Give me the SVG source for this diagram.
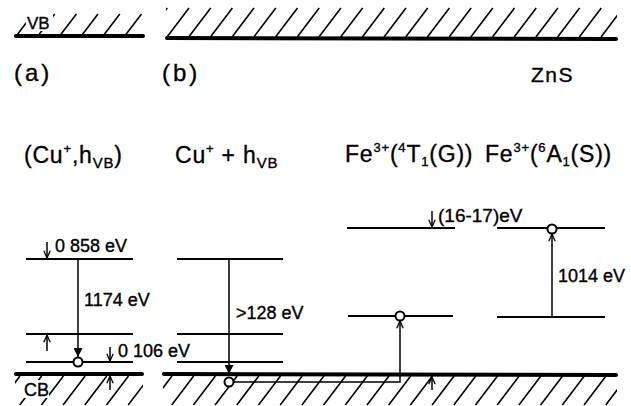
<svg xmlns="http://www.w3.org/2000/svg" width="631" height="406" viewBox="0 0 631 406">
<style>
text{font-family:"Liberation Sans",Arial,sans-serif;fill:#000;stroke:#000;stroke-width:0.35px}
.t{font-size:23px;letter-spacing:0.8px}
.lab{font-size:24px;letter-spacing:3px}
.e{font-size:18px}
.lvl{stroke:#000;stroke-width:2;fill:none}
.band{stroke:#000;stroke-width:4;stroke-linecap:round;fill:none}
.hatch{stroke:#000;stroke-width:1.6;fill:none}
.arr{stroke:#000;stroke-width:1.5;fill:none}
.dot{fill:#fff;stroke:#000;stroke-width:2}
</style>
<defs>
<marker id="ah" viewBox="0 0 10 10" refX="10" refY="5" markerWidth="8" markerHeight="8" orient="auto" markerUnits="userSpaceOnUse"><path d="M1,1 L10,5 L1,9" fill="none" stroke="#000" stroke-width="1.6"/></marker>
<marker id="af" viewBox="0 0 10 10" refX="10" refY="5" markerWidth="9" markerHeight="9" orient="auto" markerUnits="userSpaceOnUse"><path d="M0,0 L10,5 L0,10 Z" fill="#000"/></marker>
<clipPath id="cva"><rect x="15" y="0" width="129" height="40"/></clipPath>
<clipPath id="cvb"><rect x="166" y="0" width="451" height="40"/></clipPath>
<clipPath id="cca"><rect x="15" y="372" width="128" height="34"/></clipPath>
<clipPath id="ccb"><rect x="163" y="372" width="454" height="34"/></clipPath>
</defs>

<g id="vb-a">
<path class="hatch" clip-path="url(#cva)" d="M-4,35 l16,-21 M17,35 l16,-21 M38.7,35 l16,-21 M60.4,35 l16,-21 M82,35 l16,-21 M103.8,35 l16,-21 M125.5,35 l16,-21"/>
<rect x="26" y="13" width="27" height="18" fill="#fff"/>
<text x="27" y="29" style="font-size:17px">VB</text>
<line class="band" x1="16" y1="36" x2="143" y2="36"/>
</g>

<g id="vb-b">
<path class="hatch" clip-path="url(#cvb)" d="M145.3,37 l22,-29 M167,37 l22,-29 M188.7,37 l22,-29 M210.4,37 l22,-29 M232,37 l22,-29 M253.8,37 l22,-29 M275.5,37 l22,-29 M297.2,37 l22,-29 M318.9,37 l22,-29 M340.6,37 l22,-29 M362.3,37 l22,-29 M384,37 l22,-29 M405.7,37 l22,-29 M427.4,37 l22,-29 M449.1,37 l22,-29 M470.8,37 l22,-29 M492.5,37 l22,-29 M514.2,37 l22,-29 M535.9,37 l22,-29 M557.6,37 l22,-29 M579.3,37 l22,-29 M601,37 l22,-29"/>
<line class="band" x1="167" y1="38" x2="616" y2="39"/>
</g>

<g id="labels">
<text class="lab" x="14" y="81">(a)</text>
<text class="lab" x="162" y="81">(b)</text>
<text x="531" y="82" style="font-size:21px;letter-spacing:1.5px">ZnS</text>
</g>

<g id="cb-a">
<path class="hatch" clip-path="url(#cca)" d="M-2,405 l22,-29 M19.7,405 l22,-29 M41.4,405 l22,-29 M63.1,405 l22,-29 M84.8,405 l22,-29 M106.5,405 l22,-29 M128.2,405 l22,-29"/>
<rect x="23" y="380" width="26" height="18" fill="#fff"/>
<text x="24" y="396" style="font-size:18px">CB</text>
<line class="band" x1="16" y1="374" x2="142" y2="374"/>
</g>

<g id="cb-b">
<path class="hatch" clip-path="url(#ccb)" d="M150,405 l22,-29 M171.7,405 l22,-29 M193.4,405 l22,-29 M215.1,405 l22,-29 M236.8,405 l22,-29 M258.5,405 l22,-29 M280.2,405 l22,-29 M301.9,405 l22,-29 M323.6,405 l22,-29 M345.3,405 l22,-29 M367,405 l22,-29 M388.7,405 l22,-29 M410.4,405 l22,-29 M432.1,405 l22,-29 M453.8,405 l22,-29 M475.5,405 l22,-29 M497.2,405 l22,-29 M518.9,405 l22,-29 M540.6,405 l22,-29 M562.3,405 l22,-29 M584,405 l22,-29 M605.7,405 l22,-29"/>
<line class="band" x1="164" y1="374" x2="616" y2="375"/>
</g>

<g id="col-a">
<text class="t" x="24" y="163">(Cu<tspan dy="-10" style="font-size:13px">+</tspan><tspan dy="10">,h</tspan><tspan dy="5" style="font-size:15px">VB</tspan><tspan dy="-5">)</tspan></text>
<line class="lvl" x1="26" y1="259" x2="133" y2="259"/>
<line class="lvl" x1="26" y1="334" x2="133" y2="334"/>
<line class="lvl" x1="26" y1="362" x2="133" y2="362"/>
<text class="e" x="55" y="252">0 858 eV</text>
<text class="e" x="84" y="306">1174 eV</text>
<text class="e" x="118" y="357">0 106 eV</text>
</g>

<g id="col-b">
<text class="t" x="175" y="163">Cu<tspan dy="-10" style="font-size:13px">+</tspan><tspan dy="10"> + h</tspan><tspan dy="5" style="font-size:15px">VB</tspan></text>
<line class="lvl" x1="177" y1="259" x2="283" y2="259"/>
<line class="lvl" x1="177" y1="334" x2="283" y2="334"/>
<line class="lvl" x1="177" y1="362" x2="283" y2="362"/>
<text class="e" x="236" y="319">&gt;128 eV</text>
</g>

<g id="col-fe4t1">
<text class="t" x="345" y="162">Fe<tspan dy="-10" style="font-size:13px">3+</tspan><tspan dy="10">(</tspan><tspan dy="-10" style="font-size:13px">4</tspan><tspan dy="10">T</tspan><tspan dy="4" style="font-size:13px">1</tspan><tspan dy="-4">(G))</tspan></text>
<line class="lvl" x1="347" y1="228" x2="455" y2="228"/>
<line class="lvl" x1="348" y1="316" x2="453" y2="316"/>
<text class="e" x="438" y="222" style="font-size:19px">(16-17)eV</text>
</g>

<g id="col-fe6a1">
<text class="t" x="485" y="162">Fe<tspan dy="-10" style="font-size:13px">3+</tspan><tspan dy="10">(</tspan><tspan dy="-10" style="font-size:13px">6</tspan><tspan dy="10">A</tspan><tspan dy="4" style="font-size:13px">1</tspan><tspan dy="-4">(S))</tspan></text>
<line class="lvl" x1="497" y1="228" x2="605" y2="228"/>
<line class="lvl" x1="497" y1="317" x2="605" y2="317"/>
<text class="e" x="558" y="282">1014 eV</text>
</g>

<g id="connectors">
<line class="arr" x1="47" y1="242" x2="47" y2="258" marker-end="url(#ah)"/>
<line class="arr" x1="47" y1="351" x2="47" y2="335" marker-end="url(#ah)"/>
<line class="arr" x1="110" y1="347" x2="110" y2="361" marker-end="url(#ah)"/>
<line class="arr" x1="110" y1="390" x2="110" y2="376" marker-end="url(#ah)"/>
<line class="arr" x1="432" y1="211" x2="432" y2="227" marker-end="url(#ah)"/>
<line class="arr" x1="432" y1="390" x2="432" y2="377" marker-end="url(#ah)"/>
<line class="arr" x1="78" y1="259" x2="78" y2="357" marker-end="url(#af)"/>
<line class="arr" x1="229" y1="259" x2="229" y2="374" marker-end="url(#af)"/>
<path class="arr" d="M233,382 H400 V321" marker-end="url(#ah)"/>
<line class="arr" x1="552" y1="317" x2="552" y2="234" marker-end="url(#ah)"/>
<circle class="dot" cx="78" cy="362" r="4.5"/>
<circle class="dot" cx="229" cy="382" r="4.5"/>
<circle class="dot" cx="400" cy="316" r="4.5"/>
<circle class="dot" cx="552" cy="229" r="4.5"/>
</g>
</svg>
